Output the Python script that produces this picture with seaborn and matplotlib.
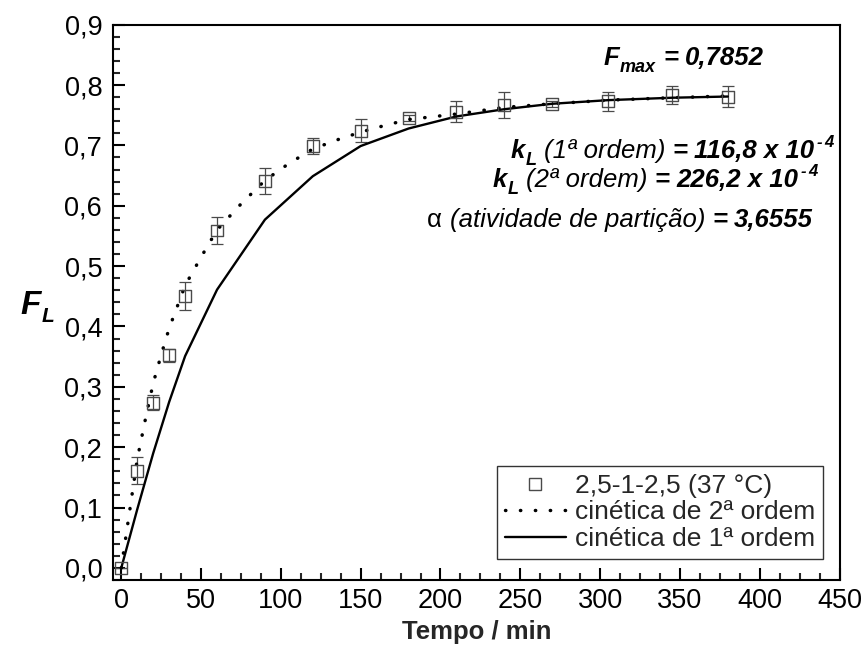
import numpy as np
import pandas as pd
import matplotlib
matplotlib.use("Agg")
import matplotlib.pyplot as plt
from matplotlib.lines import Line2D
from matplotlib.ticker import MultipleLocator, FixedLocator, FixedFormatter
from matplotlib.transforms import IdentityTransform
import seaborn as sns

# Experimental release fraction F_L over time (min), with standard deviations
tempo = [0, 10, 20, 30, 40, 60, 90, 120, 150, 180, 210, 240, 270, 305, 345, 380]
fl_exp = [0.000, 0.161, 0.274, 0.352, 0.450, 0.559, 0.641, 0.699, 0.724, 0.745,
          0.756, 0.767, 0.769, 0.773, 0.783, 0.781]
fl_err = [0.000, 0.022, 0.013, 0.011, 0.023, 0.023, 0.021, 0.013, 0.019, 0.005,
          0.018, 0.022, 0.005, 0.016, 0.015, 0.018]

# First-order kinetic model evaluated at the sampling times
fl_ordem1 = [0.000, 0.097, 0.190, 0.275, 0.351, 0.461, 0.577, 0.649, 0.699, 0.728,
             0.748, 0.760, 0.769, 0.775, 0.779, 0.781]

# Second-order kinetic model
tempo_ordem2 = [0, 5, 10, 15, 20, 25, 30, 40, 50, 60, 75, 90, 105, 120, 135, 150,
                165, 180, 210, 240, 270, 305, 345, 380]
fl_ordem2 = [0.000, 0.090, 0.180, 0.245, 0.306, 0.353, 0.397, 0.468, 0.515, 0.560,
             0.603, 0.642, 0.670, 0.694, 0.709, 0.722, 0.733, 0.743, 0.752, 0.763,
             0.769, 0.775, 0.779, 0.782]

x_ticks = [0, 50, 100, 150, 200, 250, 300, 350, 400, 450]
y_ticks = [0.0, 0.1, 0.2, 0.3, 0.4, 0.5, 0.6, 0.7, 0.8, 0.9]
y_tick_labels = ["0,0", "0,1", "0,2", "0,3", "0,4", "0,5", "0,6", "0,7", "0,8", "0,9"]

legend_labels = ["2,5-1-2,5 (37 °C)", "cinética de 2ª ordem", "cinética de 1ª ordem"]

sns.set_style("ticks")
plt.rcParams["font.family"] = ["Liberation Sans", "DejaVu Sans"]

W, H = 866, 649
fig = plt.figure(figsize=(W / 100, H / 100), dpi=100)
ax_l, ax_r, ax_t, ax_b = 113.3, 839.5, 24.7, 580.0
ax = fig.add_axes([ax_l / W, (H - ax_b) / H, (ax_r - ax_l) / W, (ax_b - ax_t) / H])

df_exp = pd.DataFrame({"t": tempo, "F": fl_exp, "err": fl_err})
df_o1 = pd.DataFrame({"t": tempo, "F": fl_ordem1})
df_o2 = pd.DataFrame({"t": tempo_ordem2, "F": fl_ordem2})

dot_style = (0, (0.1, 4.2))
grey = "#4a4a4a"

# model curves
sns.lineplot(data=df_o2, x="t", y="F", ax=ax, color="black", linewidth=2.5,
             linestyle=dot_style, dash_capstyle="round", zorder=3)
sns.lineplot(data=df_o1, x="t", y="F", ax=ax, color="black", linewidth=1.7, zorder=3)

# experimental points with error bars
ax.errorbar(df_exp["t"], df_exp["F"], yerr=df_exp["err"], fmt="none",
            ecolor=grey, elinewidth=0.9, capsize=4.3, capthick=0.9, zorder=2)
sns.scatterplot(data=df_exp, x="t", y="F", ax=ax, marker="s", s=74,
                facecolor="none", edgecolor=grey, linewidth=1.0, zorder=4)

ax.set_xlim(-5, 450)
ax.set_ylim(-0.02, 0.9)

ax.xaxis.set_major_locator(FixedLocator(x_ticks))
ax.xaxis.set_minor_locator(MultipleLocator(12.5))
ax.yaxis.set_major_locator(FixedLocator(y_ticks))
ax.yaxis.set_major_formatter(FixedFormatter(y_tick_labels))
ax.yaxis.set_minor_locator(MultipleLocator(0.02))

ax.tick_params(axis="both", which="major", direction="in", length=8.6, width=1.5,
               labelsize=19.5, colors="black")
ax.tick_params(axis="both", which="minor", direction="in", length=4.7, width=1.5)
ax.tick_params(axis="x", which="major", pad=6)
ax.tick_params(axis="y", which="major", pad=8)

for sp in ax.spines.values():
    sp.set_visible(True)
    sp.set_linewidth(1.5)
    sp.set_color("black")

ax.set_xlabel("Tempo / min", fontsize=18.5, fontweight="bold", labelpad=4)
ax.set_ylabel("")

# legend
handles = [
    Line2D([], [], marker="s", linestyle="none", markerfacecolor="none",
           markeredgecolor=grey, markersize=8.6, markeredgewidth=1.0),
    Line2D([], [], color="black", linewidth=2.5, linestyle=dot_style,
           dash_capstyle="round"),
    Line2D([], [], color="black", linewidth=1.7),
]
ax_w, ax_h = ax_r - ax_l, ax_b - ax_t
leg = ax.legend(handles, legend_labels, loc="lower right",
                bbox_to_anchor=((823 - ax_l) / ax_w, (ax_b - 559) / ax_h),
                borderaxespad=0, fontsize=19, frameon=True, fancybox=False,
                framealpha=1, edgecolor="#333333", handlelength=2.3,
                handletextpad=0.35, labelspacing=0.1, borderpad=0.3)
leg.get_frame().set_linewidth(1.0)

fig.canvas.draw()
renderer = fig.canvas.get_renderer()


def rich_text(x_px, y_px, runs, ha="right"):
    """Draw a line built from differently styled runs; y_px is the baseline,
    both measured in image pixels from the top-left corner."""
    items = []
    total = 0.0
    for text, props, rise, gap in runs:
        t = fig.text(0, 0, text, transform=IdentityTransform(), ha="left",
                     va="baseline", color="black", **props)
        w = t.get_window_extent(renderer).width
        items.append((t, rise, gap, w))
        total += gap + w
    x = x_px - total if ha == "right" else x_px
    for t, rise, gap, w in items:
        x += gap
        t.set_position((x, H - y_px + rise))
        x += w


S = 18.5
bi = dict(fontsize=S, fontstyle="italic", fontweight="bold")
it = dict(fontsize=S, fontstyle="italic")
rm = dict(fontsize=S)
sub = dict(fontsize=13, fontstyle="italic", fontweight="bold")
sup = dict(fontsize=12, fontstyle="italic", fontweight="bold")

rich_text(764, 65, [("F", bi, 0, 0), ("max", sub, -7, 1),
                    ("=", bi, 0, 7), ("0,7852", bi, 0, 7)])
rich_text(834, 157.7, [("k", bi, 0, 0), ("L", sub, -7, 1),
                       ("(1ª ordem)", it, 0, 7), ("=", bi, 0, 7),
                       ("116,8 x 10", bi, 0, 7), ("-", sup, 11, 2), ("4", sup, 11, 3)])
rich_text(818, 186.7, [("k", bi, 0, 0), ("L", sub, -7, 1),
                       ("(2ª ordem)", it, 0, 7), ("=", bi, 0, 7),
                       ("226,2 x 10", bi, 0, 7), ("-", sup, 11, 2), ("4", sup, 11, 3)])
rich_text(813, 226.7, [("α", rm, 0, 0), ("(atividade de partição)", it, 0, 8),
                       ("=", bi, 0, 7), ("3,6555", bi, 0, 7)])

# y-axis label F_L
rich_text(20, 314, [("F", dict(fontsize=24, fontstyle="italic", fontweight="bold"), 0, 0),
                    ("L", dict(fontsize=15, fontstyle="italic", fontweight="bold"), -8, 1)],
          ha="left")

fig.savefig("out.png", dpi=100)
